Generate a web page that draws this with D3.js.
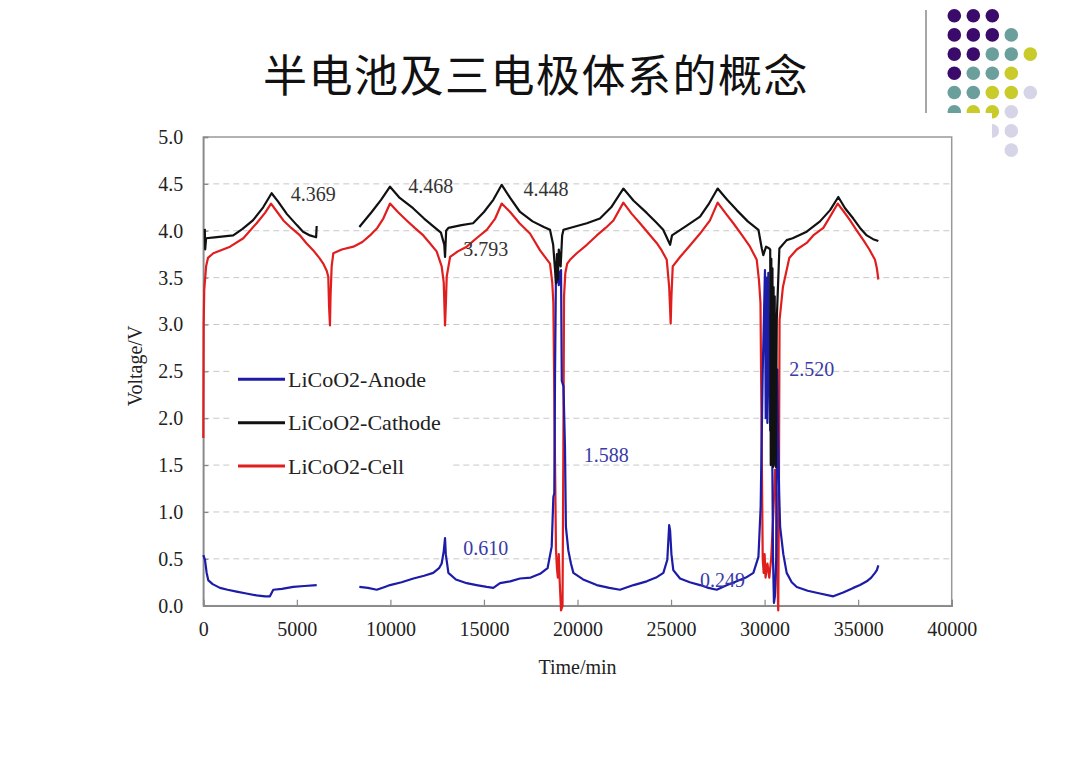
<!DOCTYPE html>
<html lang="zh">
<head>
    <meta charset="UTF-8">
    <title>半电池及三电极体系的概念</title>
    <script src="https://d3js.org/d3.v7.min.js"></script>
    <style>
        body { margin: 0; background: #fff; }
        svg text { font-family: "Liberation Serif", "Times New Roman", serif; }
        .title { font-family: "Noto Sans CJK SC", sans-serif !important; }
        .grid line { stroke: #c8c8c8; stroke-dasharray: 6,4; }
        .line { fill: none; stroke-width: 2.2; stroke-linejoin: round; }
    </style>
</head>
<body>
<div id="chart"></div>
<script>
    var w = 1080;
    var h = 764;

    // time (min), voltage (V); null breaks a line
    var anode = [
        [0,0.54],[90,0.49],[180,0.35],[270,0.27],[500,0.23],[890,0.19],[1300,0.17],[1780,0.15],[2300,0.13],
        [2850,0.11],[3300,0.10],[3560,0.10],[3740,0.17],[4200,0.18],[4810,0.20],[5400,0.21],[6060,0.22],
        null,
        [8340,0.20],[8800,0.19],[9270,0.17],[9700,0.20],[9980,0.22],[10600,0.25],[11230,0.29],[11800,0.32],
        [12290,0.35],[12600,0.40],[12740,0.45],[12850,0.58],[12920,0.72],[12960,0.55],[13100,0.35],[13500,0.28],
        [14080,0.24],[14600,0.22],[15150,0.20],[15500,0.19],[15860,0.24],[16400,0.26],[16930,0.29],[17500,0.30],
        [18000,0.34],[18400,0.40],[18620,0.63],[18710,1.16],[18760,1.20],[18800,2.50],[18850,3.58],[18900,3.45],
        [18950,3.60],[19000,3.42],[19050,3.55],[19120,3.58],[19160,2.40],[19250,2.34],[19330,1.70],[19380,0.84],
        [19510,0.59],[19650,0.45],[19780,0.35],[20300,0.28],[21030,0.22],[21700,0.19],[22270,0.17],[23000,0.22],
        [23700,0.26],[24200,0.30],[24590,0.35],[24800,0.49],[24900,0.86],[24950,0.80],[25020,0.55],[25120,0.38],
        [25480,0.29],[26000,0.25],[26550,0.22],[27000,0.19],[27440,0.17],[28000,0.22],[28510,0.26],[29000,0.30],
        [29400,0.35],[29670,0.52],[29790,1.06],[29900,2.50],[30020,3.58],[30060,2.00],[30100,3.50],[30150,1.95],
        [30200,3.55],[30300,1.87],[30350,3.20],[30400,1.90],[30450,0.50],[30500,0.03],[30550,0.10],[30620,0.50],
        [30680,2.52],[30720,1.80],[30780,1.20],[30830,0.84],[31000,0.55],[31180,0.35],[31450,0.25],[31720,0.20],
        [32300,0.16],[32960,0.13],[33670,0.10],[34200,0.14],[34740,0.19],[35100,0.22],[35460,0.26],[35700,0.30],
        [35900,0.35],[36000,0.38],[36080,0.43]
    ];

    var cathode = [
        [80,4.02],[100,3.80],[150,3.92],[600,3.93],[1600,3.95],[2100,4.02],[2650,4.11],[3200,4.25],[3650,4.40],
        [4000,4.31],[4460,4.18],[5000,4.06],[5330,3.99],[5700,3.95],[6030,3.93],[6060,4.05],
        null,
        [8340,4.04],[9000,4.20],[9500,4.33],[9980,4.47],[10500,4.35],[11210,4.24],[11800,4.13],[12280,4.05],
        [12700,3.98],[12880,3.85],[12920,3.72],[12980,4.00],[13100,4.03],[13800,4.06],[14420,4.08],[15000,4.20],
        [15500,4.33],[15950,4.49],[16400,4.35],[16930,4.20],[17600,4.10],[18200,4.04],[18530,4.01],[18700,3.85],
        [18800,3.58],[18850,3.44],[18900,3.75],[18950,3.48],[19000,3.80],[19100,3.62],[19180,3.95],[19250,4.01],
        [19780,4.04],[20500,4.08],[21200,4.13],[21800,4.25],[22450,4.45],[23000,4.32],[23700,4.19],[24200,4.09],
        [24580,4.01],[24950,3.85],[25050,3.95],[25800,4.05],[26550,4.15],[27000,4.28],[27490,4.45],[28000,4.33],
        [28510,4.22],[29100,4.10],[29670,4.01],[29850,3.81],[29930,3.74],[30080,3.83],[30250,3.81],[30300,3.80],
        [30330,1.50],[30360,3.70],[30390,1.52],[30420,3.60],[30450,1.48],[30480,3.40],[30510,1.55],[30540,3.30],
        [30570,1.50],[30600,1.48],[30650,3.05],[30790,3.81],[31180,3.90],[31500,3.92],[32250,3.99],[32960,4.10],
        [33500,4.22],[33940,4.36],[34300,4.24],[34740,4.13],[35100,4.03],[35460,3.95],[35800,3.91],[36080,3.89]
    ];

    var cell = [
        [0,1.79],[20,3.00],[50,3.37],[150,3.62],[250,3.71],[535,3.76],[1430,3.83],[2140,3.92],[2850,4.08],
        [3300,4.19],[3620,4.29],[3950,4.20],[4280,4.11],[4700,4.03],[5170,3.95],[5500,3.87],[5880,3.79],
        [6200,3.71],[6410,3.65],[6600,3.57],[6680,3.51],[6720,3.20],[6770,2.99],[6800,3.30],[6860,3.62],
        [6950,3.76],[7400,3.80],[8020,3.83],[8500,3.88],[8910,3.95],[9300,4.03],[9620,4.13],[9980,4.29],
        [10400,4.20],[10870,4.11],[11300,4.03],[11760,3.95],[12100,3.87],[12470,3.78],[12740,3.62],[12850,3.45],
        [12920,2.99],[12960,3.20],[13010,3.51],[13190,3.72],[13600,3.78],[14080,3.83],[14600,3.92],[15150,4.01],
        [15600,4.13],[15950,4.29],[16400,4.20],[16900,4.08],[17460,3.97],[18000,3.79],[18530,3.65],[18650,3.45],
        [18710,3.23],[18800,1.50],[18850,0.60],[18900,0.40],[18950,0.30],[19000,0.55],[19050,0.25],[19120,-0.05],
        [19200,0.00],[19240,1.50],[19280,3.30],[19350,3.55],[19450,3.65],[19600,3.69],[19960,3.76],[20500,3.85],
        [21030,3.95],[21500,4.03],[21920,4.11],[22450,4.30],[22900,4.18],[23340,4.08],[23800,3.97],[24230,3.87],
        [24500,3.79],[24770,3.69],[24900,3.40],[24980,3.01],[25020,3.30],[25090,3.62],[25480,3.72],[26000,3.84],
        [26550,3.97],[27080,4.11],[27490,4.30],[27900,4.19],[28330,4.08],[28800,3.95],[29220,3.83],[29580,3.69],
        [29700,3.47],[29780,3.23],[29850,1.60],[29900,0.50],[29950,0.35],[30000,0.55],[30050,0.30],[30150,0.45],
        [30250,0.30],[30350,0.50],[30450,0.90],[30560,1.45],[30620,1.20],[30680,0.30],[30730,-0.05],[30760,1.00],
        [30800,3.05],[30980,3.40],[31320,3.71],[31720,3.80],[32250,3.87],[32600,3.95],[33140,4.03],[33500,4.15],
        [33910,4.29],[34250,4.20],[34570,4.11],[34900,4.01],[35280,3.90],[35600,3.80],[35900,3.69],[36000,3.60],
        [36080,3.48]
    ];

    var seriesNames = ["LiCoO2-Anode", "LiCoO2-Cathode", "LiCoO2-Cell"];
    var seriesColors = ["#1c1ca8", "#111111", "#e01e1e"];

    var xTicks = [0, 5000, 10000, 15000, 20000, 25000, 30000, 35000, 40000];
    var yTicks = [0, 0.5, 1.0, 1.5, 2.0, 2.5, 3.0, 3.5, 4.0, 4.5, 5.0];

    // annotated values: [time, voltage, text, series index]
    var notes = [
        [5880, 4.39, "4.369", 1], [12160, 4.48, "4.468", 1], [18320, 4.45, "4.448", 1],
        [15100, 3.80, "3.793", 1], [15100, 0.62, "0.610", 0], [21540, 1.61, "1.588", 0],
        [32520, 2.53, "2.520", 0], [27750, 0.27, "0.249", 0]
    ];

    // decoration dots, top right, row by row
    var dotPalette = {p: "#3b0b6b", t: "#6b9f9c", y: "#c9cb2b", l: "#d5d5e7"};
    var dotRows = ["ppp", "pppt", "pptty", "ptty", "ttyyl", "tyyl", "..ll", "...l"];

    var x = d3.scaleLinear().domain([0, 40000]).range([203.3, 951.7]);
    var y = d3.scaleLinear().domain([0, 5]).range([605.7, 137]);

    var svg = d3.select("#chart").append("svg")
        .attr("width", w)
        .attr("height", h);

    // dots and vertical rule
    dotRows.forEach(function(row, r) {
        row.split("").forEach(function(c, i) {
            if (c === ".") return;
            svg.append("circle")
                .attr("cx", 954.3 + i * 19)
                .attr("cy", 15.7 + r * 19.2)
                .attr("r", 6.8)
                .attr("fill", dotPalette[c]);
        });
    });
    svg.append("line")
        .attr("x1", 926).attr("x2", 926).attr("y1", 10).attr("y2", 113)
        .attr("stroke", "#888").attr("stroke-width", 1.5);
    svg.append("rect")
        .attr("x", 0).attr("y", 113).attr("width", 992).attr("height", h - 113)
        .attr("fill", "#fff");

    svg.append("text")
        .attr("class", "title")
        .attr("x", 536)
        .attr("y", 92)
        .attr("text-anchor", "middle")
        .style("font-size", "44px")
        .style("letter-spacing", "1.5px")
        .attr("fill", "#111")
        .text("半电池及三电极体系的概念");

    // grid
    svg.append("g")
        .attr("class", "grid")
        .selectAll("line")
        .data(yTicks.filter(function(d) { return d > 0 && d < 5; }))
        .enter().append("line")
        .attr("x1", x(0)).attr("x2", x(40000))
        .attr("y1", function(d) { return y(d); })
        .attr("y2", function(d) { return y(d); });

    // frame
    svg.append("rect")
        .attr("x", x(0)).attr("y", y(5))
        .attr("width", x(40000) - x(0)).attr("height", y(0) - y(5))
        .attr("fill", "none").attr("stroke", "#999").attr("stroke-width", 1.5);

    var xAxis = d3.axisBottom(x).tickValues(xTicks).tickSize(-6).tickPadding(16).tickFormat(d3.format("d"));
    var yAxis = d3.axisLeft(y).tickValues(yTicks).tickSize(-5).tickPadding(20).tickFormat(d3.format(".1f"));

    var gx = svg.append("g")
        .attr("transform", "translate(0," + y(0) + ")")
        .call(xAxis);
    var gy = svg.append("g")
        .attr("transform", "translate(" + x(0) + ",0)")
        .call(yAxis);
    [gx, gy].forEach(function(g) {
        g.select(".domain").attr("stroke", "#888").attr("stroke-width", 1.5);
        g.selectAll(".tick line").attr("stroke", "#888").attr("stroke-width", 1.2);
        g.selectAll(".tick text").attr("fill", "#222").style("font-size", "20px");
    });
    gx.selectAll(".tick text").attr("dy", "0.71em");

    svg.append("text")
        .attr("x", (x(0) + x(40000)) / 2)
        .attr("y", 674)
        .attr("text-anchor", "middle")
        .attr("fill", "#222")
        .style("font-size", "20px")
        .text("Time/min");

    svg.append("text")
        .attr("transform", "translate(142,366) rotate(-90)")
        .attr("text-anchor", "middle")
        .attr("fill", "#222")
        .style("font-size", "20px")
        .text("Voltage/V");

    var line = d3.line()
        .defined(function(d) { return d !== null; })
        .x(function(d) { return x(d[0]); })
        .y(function(d) { return y(d[1]); });

    [[cell, 2], [anode, 0], [cathode, 1]].forEach(function(s) {
        svg.append("path")
            .datum(s[0])
            .attr("class", "line")
            .attr("stroke", seriesColors[s[1]])
            .attr("d", line);
    });

    // legend
    var legend = svg.append("g");
    legend.append("rect")
        .attr("x", 233).attr("y", 356).attr("width", 220).attr("height", 126)
        .attr("fill", "#fff");
    seriesNames.forEach(function(name, i) {
        var ly = 379.3 + i * 43.4;
        legend.append("line")
            .attr("x1", 238).attr("x2", 285)
            .attr("y1", ly).attr("y2", ly)
            .attr("stroke", seriesColors[i]).attr("stroke-width", 3);
        legend.append("text")
            .attr("x", 288).attr("y", ly)
            .attr("dy", "0.35em")
            .attr("fill", "#222")
            .style("font-size", "22px")
            .text(name);
    });

    svg.selectAll(".note")
        .data(notes)
        .enter().append("text")
        .attr("class", "note")
        .attr("x", function(d) { return x(d[0]); })
        .attr("y", function(d) { return y(d[1]); })
        .attr("dy", "0.35em")
        .attr("text-anchor", "middle")
        .attr("fill", function(d) { return d[3] === 0 ? "#3a3aa8" : "#333"; })
        .style("font-size", "20px")
        .text(function(d) { return d[2]; });
</script>
</body>
</html>
